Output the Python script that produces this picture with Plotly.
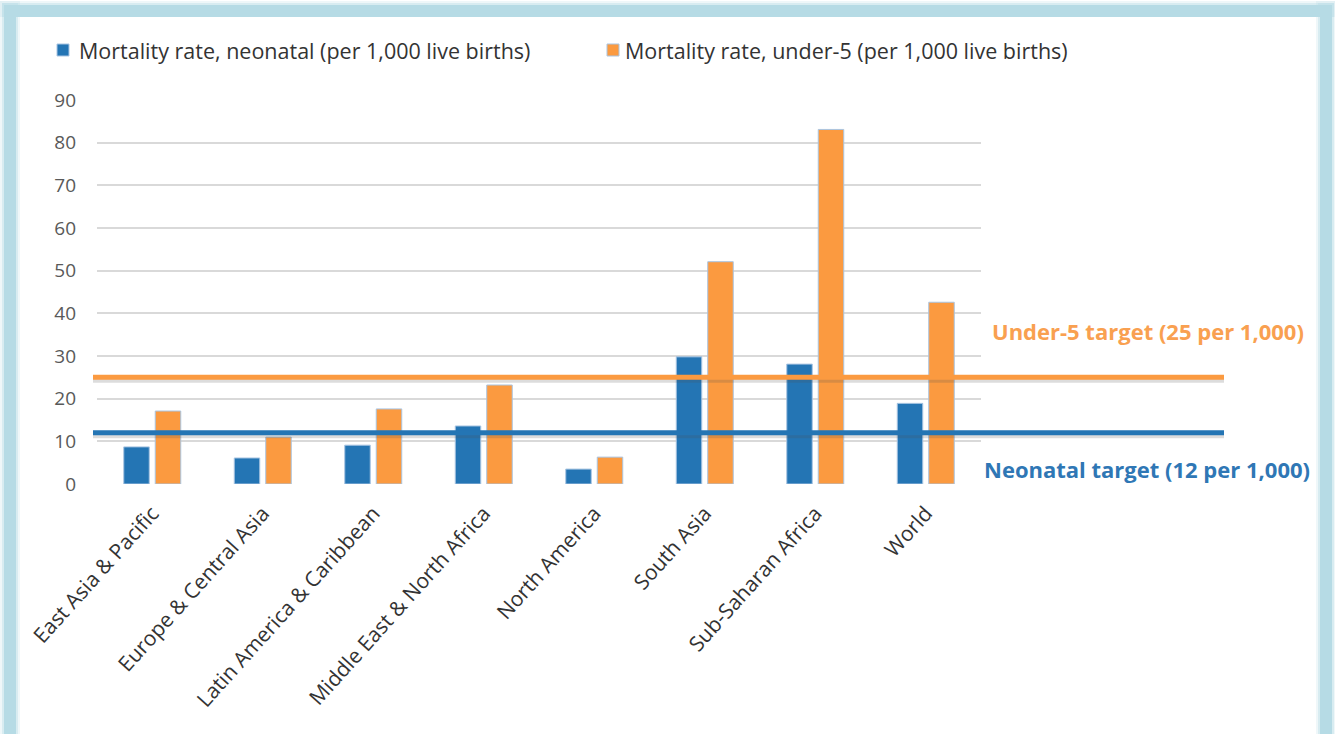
import plotly.graph_objects as go

# Regional child mortality, per 1,000 live births
regions = [
    "East Asia & Pacific",
    "Europe & Central Asia",
    "Latin America & Caribbean",
    "Middle East & North Africa",
    "North America",
    "South Asia",
    "Sub-Saharan Africa",
    "World",
]
neonatal = [8.7, 6.1, 9.1, 13.6, 3.5, 29.8, 28.1, 18.9]
under5 = [17.1, 11.0, 17.6, 23.2, 6.3, 52.1, 83.1, 42.6]

series_names = [
    "Mortality rate, neonatal (per 1,000 live births)",
    "Mortality rate, under-5 (per 1,000 live births)",
]
y_ticks = [0, 10, 20, 30, 40, 50, 60, 70, 80, 90]

under5_target = 25
neonatal_target = 12
under5_target_label = "Under-5 target (25 per 1,000)"
neonatal_target_label = "Neonatal target (12 per 1,000)"

BLUE = "#2475b4"
ORANGE = "#fb9a40"
BLUE_TEXT = "#2f77b5"
ORANGE_TEXT = "#f9a050"
OUTLINE = "#a9c5e2"
FRAME = "#b6dbe5"
FONT = "Open Sans"

W, H = 1335, 734
L, R, T, B = 97, W - 981, 100, H - 484
PW, PH = W - L - R, H - T - B


def px(xp):
    """Horizontal pixel -> paper fraction."""
    return (xp - L) / PW


def py(yp):
    """Vertical pixel -> paper fraction."""
    return (H - B - yp) / PH


fig = go.Figure()
fig.add_trace(go.Bar(
    x=regions, y=neonatal, name=series_names[0],
    marker=dict(color=BLUE, line=dict(color=OUTLINE, width=1)),
))
fig.add_trace(go.Bar(
    x=regions, y=under5, name=series_names[1],
    marker=dict(color=ORANGE, line=dict(color=OUTLINE, width=1)),
))

shapes = []

# Light-blue frame with a soft glow around the card
def frame_rects(grow, opacity):
    out = []
    for x0, x1, y0, y1 in [(4, 16, 5, H + 5), (4, 1332, 5, 17), (1320, 1332, 5, H + 5)]:
        out.append(dict(type="rect", xref="paper", yref="paper", layer="below",
                        x0=px(x0 - grow), x1=px(x1 + grow), y0=py(y1), y1=py(y0 - grow),
                        fillcolor=FRAME, opacity=opacity, line=dict(width=0)))
    return out


shapes += frame_rects(4, 0.22)
shapes += frame_rects(2, 0.4)
shapes += frame_rects(0, 1.0)

# Target reference lines with a drop shadow
for value, color in [(under5_target, ORANGE), (neonatal_target, BLUE)]:
    shapes.append(dict(type="line", xref="paper", yref="y", layer="above",
                       x0=px(93), x1=px(1224), y0=-3, y1=-3,
                       ysizemode="pixel", yanchor=value,
                       line=dict(color="rgba(80,80,80,0.2)", width=5)))
    shapes.append(dict(type="line", xref="paper", yref="y", layer="above",
                       x0=px(93), x1=px(1224), y0=value, y1=value,
                       line=dict(color=color, width=5)))

# Legend keys
annotations = []
for (kx, tx), name, color in zip([(57, 77), (607, 623)], series_names, [BLUE, ORANGE]):
    shapes.append(dict(type="rect", xref="paper", yref="paper",
                       x0=px(kx), x1=px(kx + 12), y0=py(56), y1=py(44),
                       fillcolor=color, line=dict(color=OUTLINE, width=1)))
    annotations.append(dict(text=name, xref="paper", yref="paper",
                            x=px(tx), y=py(50), xanchor="left", yanchor="middle",
                            showarrow=False,
                            font=dict(family=FONT, size=21.5, color="#333333")))

annotations += [
    dict(text=under5_target_label, xref="paper", yref="paper",
         x=px(1148), y=py(331), xanchor="center", yanchor="middle", showarrow=False,
         font=dict(family=FONT, size=22, color=ORANGE_TEXT, weight="bold")),
    dict(text=neonatal_target_label, xref="paper", yref="paper",
         x=px(1147), y=py(469), xanchor="center", yanchor="middle", showarrow=False,
         font=dict(family=FONT, size=22, color=BLUE_TEXT, weight="bold")),
]

fig.update_layout(
    width=W, height=H,
    margin=dict(l=L, r=R, t=T, b=B, pad=0, autoexpand=False),
    paper_bgcolor="white", plot_bgcolor="white",
    barmode="group", bargap=0.43, bargroupgap=0.19,
    font=dict(family=FONT, color="#404040"),
    showlegend=False,
    shapes=shapes,
    annotations=annotations,
)
fig.update_xaxes(
    showgrid=False, showline=False, zeroline=False, ticks="",
    tickangle=-48, ticklabelstandoff=12,
    tickfont=dict(family=FONT, size=21, color="#333333"),
)
fig.update_yaxes(
    range=[0, 90], tickvals=y_ticks, showline=False, zeroline=False,
    gridcolor="#d9d9d9", gridwidth=1.6, ticks="",
    ticklabelstandoff=20,
    tickfont=dict(family=FONT, size=19, color="#595959"),
)

fig.write_html("out.html")
